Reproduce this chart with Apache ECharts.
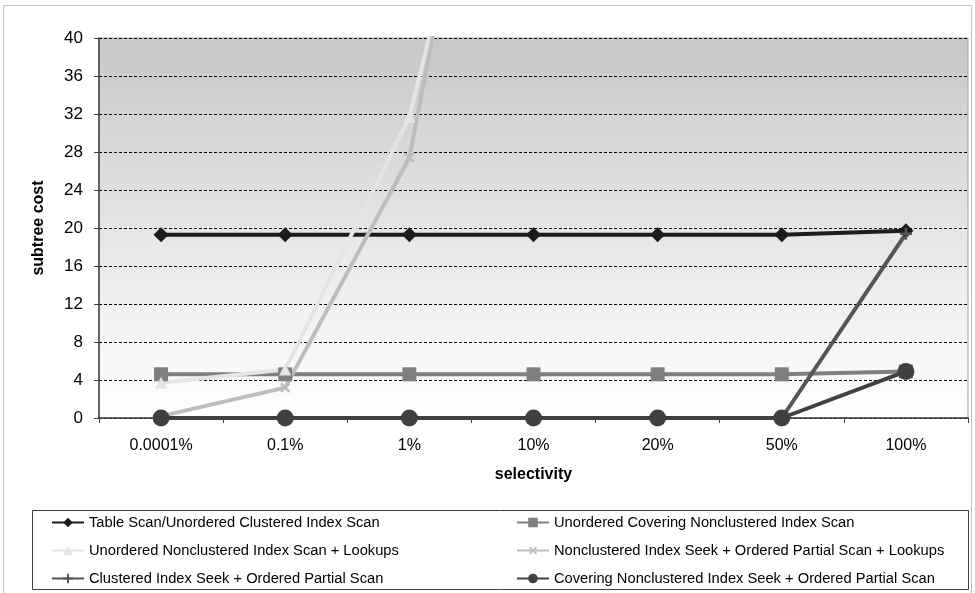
<!DOCTYPE html>
<html>
<head>
<meta charset="utf-8">
<script src="https://cdn.jsdelivr.net/npm/echarts@6/dist/echarts.min.js"></script>
<style>html,body{margin:0;padding:0;background:#fff}#c{width:975px;height:593px}</style>
</head>
<body>
<div id="c"></div>
<script>
var categories = ['0.0001%', '0.1%', '1%', '10%', '20%', '50%', '100%'];
var yTicks = [0, 4, 8, 12, 16, 20, 24, 28, 32, 36, 40];
var seriesNames = [
  'Table Scan/Unordered Clustered Index Scan',
  'Unordered Covering Nonclustered Index Scan',
  'Unordered Nonclustered Index Scan + Lookups',
  'Nonclustered Index Seek + Ordered Partial Scan + Lookups',
  'Clustered Index Seek + Ordered Partial Scan',
  'Covering Nonclustered Index Seek + Ordered Partial Scan'
];
var tableScan = [19.3, 19.3, 19.3, 19.3, 19.3, 19.3, 19.7];
var unorderedCoveringScan = [4.6, 4.6, 4.6, 4.6, 4.6, 4.6, 4.9];
var unorderedNcScanLookups = [3.7, 5.1, 31.7, 84, 170, 420, 840];
var ncSeekLookups = [0.2, 3.2, 27.4, 95, 190, 470, 940];
var clusteredSeek = [0, 0, 0, 0, 0, 0, 19.4];
var coveringNcSeek = [0, 0, 0, 0, 0, 0, 4.9];

var plusPath = 'path://M4,0h2v4h4v2h-4v4h-2v-4h-4v-2h4z';
var chart = echarts.init(document.getElementById('c'), null, {renderer: 'canvas'});
var font = "'Liberation Sans', Arial, sans-serif";

function mk(name, data, color, symbol, size, width, extra) {
  var s = {
    name: name, type: 'line', data: data, clip: true,
    symbol: symbol, symbolSize: size, showSymbol: true,
    lineStyle: {color: color, width: width},
    itemStyle: {color: color, borderWidth: 0},
    emphasis: {disabled: true},
    animation: false
  };
  if (extra) for (var k in extra) s[k] = extra[k];
  return s;
}

var option = {
  animation: false,
  backgroundColor: '#fff',
  textStyle: {fontFamily: font},
  grid: {
    left: 99, right: 7, top: 38, bottom: 175,
    show: true,
    borderColor: '#a0a0a0', borderWidth: 1,
    backgroundColor: new echarts.graphic.LinearGradient(0, 0, 0, 1, [
      {offset: 0, color: '#c6c7c9'},
      {offset: 0.55, color: '#e8e8e9'},
      {offset: 1, color: '#ffffff'}
    ])
  },
  xAxis: {
    type: 'category', data: categories, boundaryGap: true,
    name: 'selectivity', nameLocation: 'middle', nameGap: 49,
    nameTextStyle: {fontSize: 16, fontWeight: 'bold', color: '#000', fontFamily: font},
    axisLine: {lineStyle: {color: '#404040', width: 1.5}},
    axisTick: {show: true, alignWithLabel: false, length: 5, lineStyle: {color: '#404040'}},
    axisLabel: {fontSize: 16, color: '#000', margin: 20, fontFamily: font},
    splitLine: {show: false}
  },
  yAxis: {
    type: 'value', min: 0, max: 40, interval: 4,
    name: 'subtree cost', nameLocation: 'middle', nameGap: 52,
    nameTextStyle: {fontSize: 16, fontWeight: 'bold', color: '#000', fontFamily: font},
    axisLine: {show: true, lineStyle: {color: '#404040', width: 1.5}},
    axisTick: {show: true, length: 5, lineStyle: {color: '#404040'}},
    axisLabel: {fontSize: 17, color: '#000', margin: 16, fontFamily: font,
      formatter: function (v) { return yTicks.indexOf(v) >= 0 ? String(v) : ''; }},
    splitLine: {show: true, lineStyle: {color: '#000', type: [3, 2], width: 1}}
  },
  legend: [
    {
      orient: 'vertical', left: 51, top: 515, padding: 0,
      itemWidth: 32, itemHeight: 12, itemGap: 13,
      textStyle: {fontSize: 14.7, color: '#000', fontFamily: font},
      data: [seriesNames[0], seriesNames[2], seriesNames[4]]
    },
    {
      orient: 'vertical', left: 516, top: 515, padding: 0,
      itemWidth: 32, itemHeight: 12, itemGap: 13,
      textStyle: {fontSize: 14.7, color: '#000', fontFamily: font},
      data: [seriesNames[1], seriesNames[3], seriesNames[5]]
    }
  ],
  graphic: [
    {type: 'rect', shape: {x: 3.5, y: 5.5, width: 968, height: 600}, style: {fill: null, stroke: '#c0c0c0', lineWidth: 1}, silent: true, z: -1},
    {type: 'rect', shape: {x: 32.5, y: 510.5, width: 936, height: 79}, style: {fill: null, stroke: '#404040', lineWidth: 1}, silent: true}
  ],
  series: [
    mk(seriesNames[0], tableScan, '#1c1c1c', 'diamond', 15, 4),
    mk(seriesNames[1], unorderedCoveringScan, '#7f7f7f', 'rect', 14, 4),
    mk(seriesNames[2], unorderedNcScanLookups, '#e4e4e4', 'triangle', 12, 4),
    mk(seriesNames[3], ncSeekLookups, '#bdbdbd', plusPath, 12, 4, {symbolRotate: 45}),
    mk(seriesNames[4], clusteredSeek, '#555555', plusPath, 12, 4),
    mk(seriesNames[5], coveringNcSeek, '#404040', 'circle', 17, 4)
  ]
};
chart.setOption(option);
</script>
</body>
</html>
